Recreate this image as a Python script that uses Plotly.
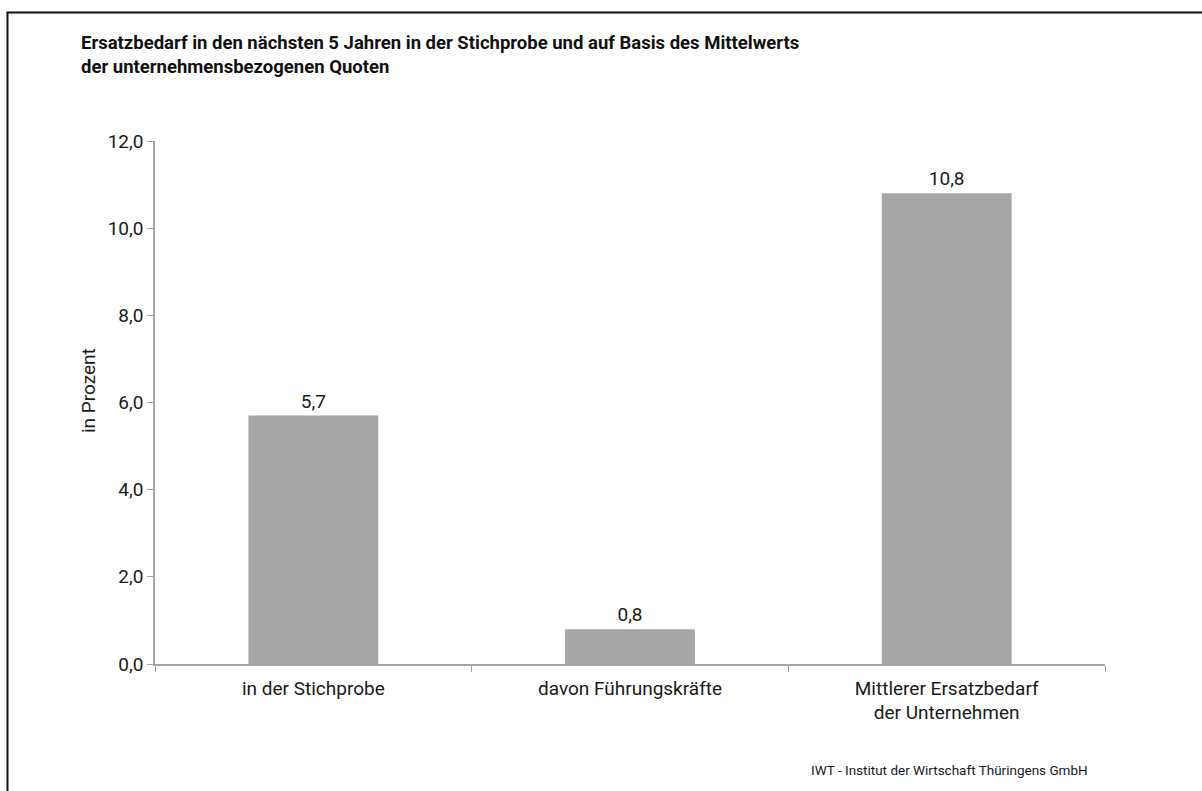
import plotly.graph_objects as go

categories = ["in der Stichprobe", "davon Führungskräfte", "Mittlerer Ersatzbedarf<br>der Unternehmen"]
values = [5.7, 0.8, 10.8]
y_ticks = [0, 2, 4, 6, 8, 10, 12]
y_tick_labels = ["0,0", "2,0", "4,0", "6,0", "8,0", "10,0", "12,0"]

title_lines = [
    "Ersatzbedarf in den nächsten 5 Jahren in der Stichprobe und auf Basis des Mittelwerts",
    "der unternehmensbezogenen Quoten",
]
y_title = "in Prozent"
source_text = "IWT - Institut der Wirtschaft Thüringens GmbH"

FONT = "Roboto, Liberation Sans Narrow, Arial Narrow, sans-serif"
INK = "#1a1a1a"

W, H = 1202, 791
L, R, T, B = 155, 97, 141, 127
pw, ph = W - L - R, H - T - B


def px_x(px):
    return (px - L) / pw


def px_y(py):
    return (H - B - py) / ph


fig = go.Figure(
    go.Bar(
        x=categories,
        y=values,
        marker=dict(color="#a6a6a7", line=dict(width=0)),
        text=[f"{v:.1f}".replace(".", ",") for v in values],
        textposition="outside",
        textfont=dict(family=FONT, size=19, color=INK),
        cliponaxis=False,
        width=0.41,
    )
)

annotations = [
    dict(
        text="<b>" + "<br>".join(title_lines) + "</b>",
        xref="paper", yref="paper",
        x=px_x(79), y=px_y(55.5),
        xanchor="left", yanchor="middle",
        align="left",
        showarrow=False,
        font=dict(family=FONT, size=18.5, color="#111111"),
    ),
    dict(
        text=y_title,
        xref="paper", yref="paper",
        x=px_x(88), y=px_y(391),
        xanchor="center", yanchor="middle",
        textangle=-90,
        showarrow=False,
        font=dict(family=FONT, size=19, color=INK),
    ),
    dict(
        text=source_text,
        xref="paper", yref="paper",
        x=px_x(1090), y=px_y(770),
        xanchor="right", yanchor="middle",
        showarrow=False,
        font=dict(family=FONT, size=13.5, color=INK),
    ),
]

fig.update_layout(
    width=W,
    height=H,
    margin=dict(l=L, r=R, t=T, b=B, pad=0),
    paper_bgcolor="white",
    plot_bgcolor="white",
    showlegend=False,
    font=dict(family=FONT, color=INK),
    xaxis=dict(
        showline=True,
        linecolor="#a6a6a6",
        linewidth=1.5,
        ticks="outside",
        tickson="boundaries",
        ticklen=6,
        tickcolor="#a6a6a6",
        ticklabelstandoff=6,
        tickfont=dict(family=FONT, size=19, color=INK),
        showgrid=False,
    ),
    yaxis=dict(
        range=[0, 12],
        tickvals=y_ticks,
        ticktext=y_tick_labels,
        showline=True,
        linecolor="#a6a6a6",
        linewidth=1.5,
        ticks="outside",
        ticklen=6,
        tickcolor="#a6a6a6",
        tickfont=dict(family=FONT, size=19, color=INK),
        showgrid=False,
        zeroline=False,
    ),
    annotations=annotations,
    shapes=[
        dict(
            type="line", xref="paper", yref="paper",
            x0=px_x(7.5), x1=px_x(7.5), y0=px_y(12), y1=px_y(800),
            line=dict(color="#111111", width=2),
        ),
        dict(
            type="line", xref="paper", yref="paper",
            x0=px_x(6.5), x1=px_x(1210), y0=px_y(12.5), y1=px_y(12.5),
            line=dict(color="#111111", width=2),
        ),
    ],
)

fig.write_html("out.html")
